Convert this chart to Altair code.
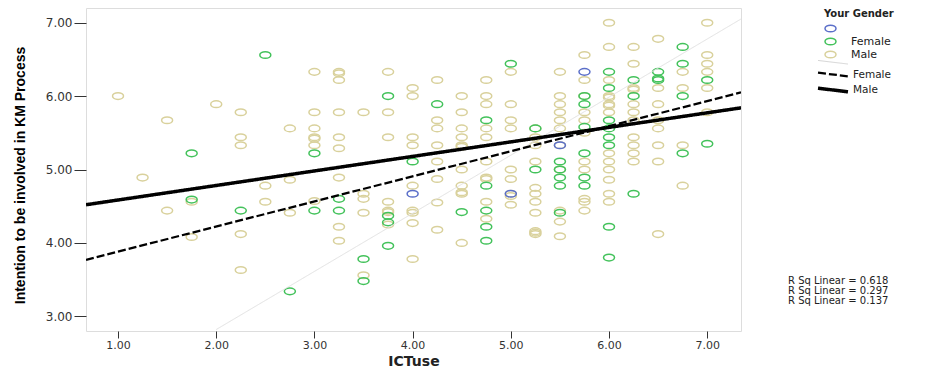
import altair as alt
import pandas as pd

# ---- scatter points: (ICTuse, Intention) ----
male_pts = [
    (1.0, 6.0), (1.25, 4.89), (1.5, 5.67), (1.5, 4.44), (1.75, 4.56), (1.75, 4.08),
    (2.0, 5.89), (2.25, 5.78), (2.25, 5.44), (2.25, 5.33), (2.25, 4.12), (2.25, 3.63),
    (2.5, 4.78), (2.5, 4.56), (2.75, 5.56), (2.75, 4.86), (2.75, 4.41),
    (3.0, 6.33), (3.0, 5.78), (3.0, 5.56), (3.0, 5.44), (3.0, 5.42), (3.0, 5.33), (3.0, 4.57),
    (3.25, 6.33), (3.25, 6.31), (3.25, 6.22), (3.25, 5.78), (3.25, 5.44), (3.25, 5.29),
    (3.25, 4.89), (3.25, 4.22), (3.25, 4.03),
    (3.5, 5.78), (3.5, 4.67), (3.5, 4.6), (3.5, 4.41), (3.5, 3.56),
    (3.75, 6.33), (3.75, 5.78), (3.75, 5.44), (3.75, 4.56), (3.75, 4.44), (3.75, 4.42), (3.75, 4.25),
    (4.0, 6.11), (4.0, 6.0), (4.0, 5.44), (4.0, 5.33), (4.0, 4.78), (4.0, 4.44), (4.0, 4.41),
    (4.0, 4.27), (4.0, 3.78),
    (4.25, 6.22), (4.25, 5.67), (4.25, 5.56), (4.25, 5.33), (4.25, 5.11), (4.25, 4.87),
    (4.25, 4.55), (4.25, 4.18),
    (4.5, 6.0), (4.5, 5.78), (4.5, 5.56), (4.5, 5.44), (4.5, 5.33), (4.5, 5.31), (4.5, 5.0),
    (4.5, 4.78), (4.5, 4.67), (4.5, 4.69), (4.5, 4.0),
    (4.75, 6.22), (4.75, 6.0), (4.75, 5.89), (4.75, 5.56), (4.75, 5.44), (4.75, 5.11),
    (4.75, 4.89), (4.75, 4.87), (4.75, 4.56), (4.75, 4.33),
    (5.0, 6.33), (5.0, 5.89), (5.0, 5.67), (5.0, 5.56), (5.0, 5.0), (5.0, 4.87), (5.0, 4.67),
    (5.0, 4.64), (5.0, 4.52),
    (5.25, 5.56), (5.25, 5.44), (5.25, 5.33), (5.25, 5.11), (5.25, 4.75), (5.25, 4.67),
    (5.25, 4.56), (5.25, 4.41), (5.25, 4.14), (5.25, 4.16), (5.25, 4.12),
    (5.5, 6.33), (5.5, 6.0), (5.5, 5.89), (5.5, 5.78), (5.5, 5.67), (5.5, 5.56), (5.5, 5.33),
    (5.5, 5.0), (5.5, 4.44), (5.5, 4.29), (5.5, 4.09),
    (5.75, 6.56), (5.75, 6.22), (5.75, 6.0), (5.75, 5.78), (5.75, 5.67), (5.75, 5.5),
    (5.75, 5.11), (5.75, 5.0), (5.75, 4.6), (5.75, 4.56), (5.75, 4.44),
    (6.0, 7.0), (6.0, 6.67), (6.0, 6.22), (6.0, 6.0), (6.0, 5.98), (6.0, 5.89), (6.0, 5.87),
    (6.0, 5.78), (6.0, 5.22), (6.0, 5.11), (6.0, 5.0), (6.0, 4.86), (6.0, 4.67), (6.0, 4.56),
    (6.25, 6.67), (6.25, 6.44), (6.25, 6.11), (6.25, 6.09), (6.25, 5.89), (6.25, 5.78),
    (6.25, 5.67), (6.25, 5.44), (6.25, 5.33), (6.25, 5.22), (6.25, 5.11),
    (6.5, 6.78), (6.5, 6.11), (6.5, 5.89), (6.5, 5.67), (6.5, 5.56), (6.5, 5.33), (6.5, 5.11),
    (6.5, 4.12),
    (6.75, 6.33), (6.75, 6.11), (6.75, 5.33), (6.75, 4.78),
    (7.0, 7.0), (7.0, 6.56), (7.0, 6.44), (7.0, 6.33), (7.0, 6.11), (7.0, 5.78),
]
female_pts = [
    (1.75, 5.22), (1.75, 4.59), (2.25, 4.44), (2.5, 6.56), (2.75, 3.34), (3.0, 5.22),
    (3.0, 4.44), (3.25, 4.6), (3.25, 4.44), (3.5, 3.78), (3.5, 3.48), (3.75, 6.0),
    (3.75, 4.37), (3.75, 4.28), (3.75, 3.96), (4.0, 5.11), (4.25, 5.89), (4.5, 4.42),
    (4.75, 5.67), (4.75, 4.78), (4.75, 4.44), (4.75, 4.22), (4.75, 4.03), (5.0, 6.44),
    (5.25, 5.56), (5.25, 5.0), (5.5, 5.11), (5.5, 5.0), (5.5, 4.89), (5.5, 4.78), (5.5, 4.41),
    (5.75, 6.0), (5.75, 5.89), (5.75, 5.58), (5.75, 5.22), (5.75, 4.89), (5.75, 4.78),
    (6.0, 6.33), (6.0, 6.11), (6.0, 5.67), (6.0, 5.56), (6.0, 5.44), (6.0, 5.33), (6.0, 4.22),
    (6.0, 3.8), (6.25, 6.22), (6.25, 6.0), (6.25, 4.67), (6.5, 6.33), (6.5, 6.22), (6.5, 6.24),
    (6.75, 6.67), (6.75, 6.44), (6.75, 6.0), (6.75, 5.22), (7.0, 6.22), (7.0, 5.35),
]
blank_pts = [(4.0, 4.67), (5.0, 4.67), (5.5, 5.33), (5.75, 6.33)]

gender_labels = [" ", "Female", "Male"]
gender_colors = ["#5b6fc9", "#43c25b", "#d9d19c"]
line_colors = ["#e2e2e2", "#000000", "#000000"]

# ---- fit lines (end points) ----
fit_x = [0.674, 7.344]
male_fit_y = [4.52, 5.84]
female_fit_y = [3.77, 6.05]
blank_fit_x = [2.0, 7.344]
blank_fit_y = [2.82, 7.05]

r_sq = [0.618, 0.297, 0.137]

x_ticks = [1, 2, 3, 4, 5, 6, 7]
y_ticks = [3, 4, 5, 6, 7]
x_domain = [0.674, 7.344]
y_domain = [2.8, 7.2]

rows = []
for label, pts in (("Male", male_pts), ("Female", female_pts), (" ", blank_pts)):
    for x, y in pts:
        rows.append({"ICTuse": x, "Intention": y, "Your Gender": label})
points = pd.DataFrame(rows)

line_rows = []
for label, xs, ys in ((" ", blank_fit_x, blank_fit_y),
                      ("Female", fit_x, female_fit_y),
                      ("Male", fit_x, male_fit_y)):
    for x, y in zip(xs, ys):
        line_rows.append({"ICTuse": x, "Intention": y, "grp": label})
lines = pd.DataFrame(line_rows)

ELLIPSE = "M -1 0 A 1 0.6 0 1 1 1 0 A 1 0.6 0 1 1 -1 0 Z"
SLANT = "M -3.75 -0.45 L 3.75 0.45"

x_enc = alt.X("ICTuse:Q", scale=alt.Scale(domain=x_domain, nice=False, zero=False),
              axis=alt.Axis(values=x_ticks, format=".2f", title="ICTuse", grid=False,
                            domain=False, tickSize=7, tickColor="#333",
                            labelFont="DejaVu Sans", labelFontSize=11, labelColor="#333",
                            labelPadding=1, titleFont="DejaVu Sans", titleFontSize=14,
                            titleFontWeight="bold", titleColor="#222",
                            titleY=34, titleBaseline="alphabetic"))
y_enc = alt.Y("Intention:Q", scale=alt.Scale(domain=y_domain, nice=False, zero=False),
              axis=alt.Axis(values=y_ticks, format=".2f",
                            title="Intention to be involved in KM Process", grid=False,
                            domain=False, tickSize=12, tickColor="#333",
                            labelFont="DejaVu Sans", labelFontSize=12, labelColor="#333",
                            labelPadding=2, titleFont="Liberation Sans",
                            titleFontSize=14, titleFontWeight="bold", titleColor="#000",
                            titleX=-66, titleY=167, titleAngle=-90,
                            titleAlign="center", titleBaseline="middle"))

pts_layer = alt.Chart(points).mark_point(
    shape=ELLIPSE, filled=False, size=121, strokeWidth=1.5, opacity=1
).encode(
    x=x_enc, y=y_enc,
    color=alt.Color("Your Gender:N",
                    scale=alt.Scale(domain=gender_labels, range=gender_colors),
                    legend=alt.Legend(title="Your Gender", orient="none", legendX=738,
                                      legendY=1, symbolType=ELLIPSE, symbolSize=121,
                                      symbolStrokeWidth=1.5, titleFont="DejaVu Sans",
                                      titleFontSize=10, titleFontWeight="bold",
                                      titleColor="#222", titlePadding=3,
                                      labelFont="DejaVu Sans", labelFontSize=11,
                                      labelColor="#222", labelOffset=14, rowPadding=0,
                                      padding=0)),
)

line_legend = alt.Legend(
    title=None, orient="none", legendX=741, legendY=49,
    symbolType=SLANT, symbolSize=64, symbolStrokeWidth=2,
    symbolStrokeColor=alt.ExprRef("datum.value === ' ' ? '#d6d6d6' : '#000000'"),
    labelFont="DejaVu Sans", labelFontSize=10.5, labelColor="#222",
    labelOffset=14, rowPadding=0, padding=0,
)

line_layer = alt.Chart(lines).mark_line(clip=True).encode(
    x="ICTuse:Q", y="Intention:Q",
    color=alt.Color("grp:N", scale=alt.Scale(domain=gender_labels, range=line_colors),
                    legend=None),
    strokeDash=alt.StrokeDash("grp:N",
                              scale=alt.Scale(domain=gender_labels,
                                              range=[[1, 0], [8, 3], [1, 0]]),
                              legend=line_legend),
    strokeWidth=alt.StrokeWidth("grp:N",
                                scale=alt.Scale(domain=gender_labels, range=[1, 3.5, 3.2]),
                                legend=None),
)

r_text = [f"R Sq Linear = {v:.3f}" for v in r_sq]
text_layer = alt.Chart(pd.DataFrame({"k": [0]})).mark_text(
    align="left", baseline="top", font="DejaVu Sans", fontSize=10, lineHeight=10,
    color="#222"
).encode(x=alt.value(702), y=alt.value(268), text=alt.value(r_text))

chart = alt.layer(pts_layer, line_layer, text_layer).resolve_scale(
    color="independent"
).properties(
    width=655, height=323,
    autosize=alt.AutoSizeParams(type="none"),
    padding={"left": 78, "top": 0, "right": 190, "bottom": 36},
).configure_view(
    fill="#f0f0f0", stroke="#4d4d4d", strokeWidth=1.8
).configure(background="white")

chart.save("out.html", embed_options={"renderer": "svg", "actions": False})
